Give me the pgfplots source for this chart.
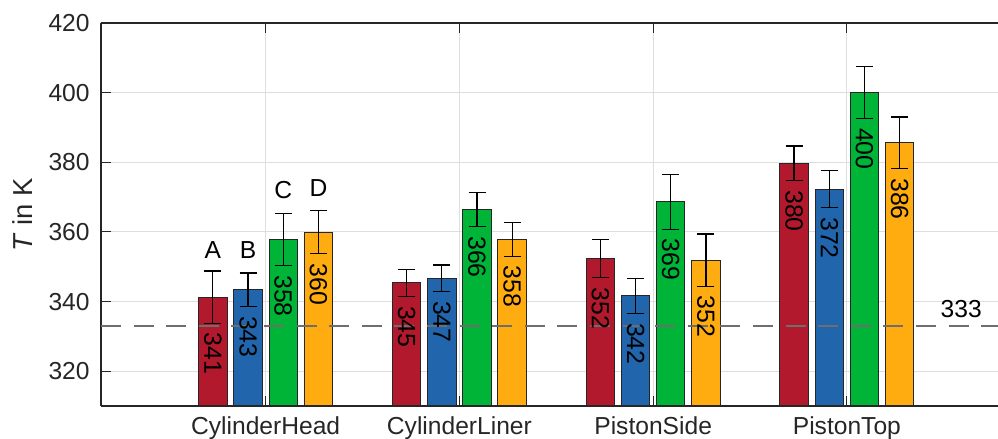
\documentclass[border=0pt]{standalone}
\usepackage{pgfplots}
\pgfplotsset{compat=1.18}
\usepackage{pgfplotstable}
\usepackage{fontspec}
\setmainfont{Liberation Sans}

\definecolor{cRed}{RGB}{178,25,45}
\definecolor{cBlue}{RGB}{33,101,172}
\definecolor{cGreen}{RGB}{0,180,55}
\definecolor{cOrange}{RGB}{254,172,15}
\definecolor{axgray}{RGB}{38,38,38}
\definecolor{gridgray}{RGB}{222,222,222}
\definecolor{refgray}{RGB}{110,110,110}

% columns: component index, mean temperature (K), standard deviation (K)
\pgfplotstableread{
x  y      e
1  341.3  7.5
2  345.4  3.9
3  352.3  5.5
4  379.7  5.0
}\dataA
\pgfplotstableread{
x  y      e
1  343.4  4.8
2  346.7  3.8
3  341.6  5.0
4  372.3  5.3
}\dataB
\pgfplotstableread{
x  y      e
1  357.8  7.5
2  366.4  4.9
3  368.6  7.8
4  400.1  7.5
}\dataC
\pgfplotstableread{
x  y      e
1  359.9  6.2
2  357.8  4.8
3  351.9  7.5
4  385.6  7.4
}\dataD

\pgfplotsset{
  tempbar/.style={
    draw=black!85, line width=0.5pt,
    error bars/.cd, y dir=both, y explicit,
      error bar style={black, line width=0.6pt},
      error mark options={rotate=90, black, mark size=4.25pt, line width=0.6pt},
    /pgfplots/.cd,
    point meta=y,
    visualization depends on={\thisrow{e} \as \err},
    nodes near coords={\pgfmathprintnumber[fixed,precision=0]{\pgfplotspointmeta}},
    nodes near coords style={font=\fontsize{12.4}{14}\selectfont, black, inner sep=0pt,
      anchor=west, yshift={-(1.7409*\err+4.6)*1pt}, rotate=-90},
  },
}

\begin{document}
\begin{tikzpicture}
\useasboundingbox (-50.5pt,-16.5pt) rectangle (448.5pt,203pt);
\begin{axis}[
  at={(0,0)}, anchor=south west,
  scale only axis, width=448.5pt, height=191.5pt,
  xmin=0.15, xmax=4.78, ymin=310, ymax=420,
  ybar, bar width=0.147,
  axis y line*=left, axis x line*=box,
  axis line style={axgray, line width=0.6pt},
  xtick={1,2,3,4},
  xticklabels={CylinderHead, CylinderLiner, PistonSide, PistonTop},
  ytick={320,340,...,420},
  tick align=inside, major tick length=5pt,
  tick style={axgray, line width=0.5pt},
  grid=major, grid style={gridgray, line width=0.5pt},
  /pgf/number format/assume math mode=true,
  ticklabel style={font=\fontsize{12.3}{14}\selectfont, text=axgray},
  xticklabel style={inner sep=0pt, anchor=north, yshift=-5pt},
  yticklabel style={inner sep=0pt, anchor=east, xshift=-5.5pt},
  ylabel={\textit{T} in K},
  every axis y label/.style={at={([xshift=-39pt]axis description cs:0,0.5)},
    rotate=90, anchor=center, font=\fontsize{13.7}{16}\selectfont, text=axgray},
]
\addplot[tempbar, bar shift=-0.2725, fill=cRed]    table[x=x, y=y, y error=e] {\dataA};
\addplot[tempbar, bar shift=-0.0908, fill=cBlue]   table[x=x, y=y, y error=e] {\dataB};
\addplot[tempbar, bar shift=0.0908,  fill=cGreen]  table[x=x, y=y, y error=e] {\dataC};
\addplot[tempbar, bar shift=0.2725,  fill=cOrange] table[x=x, y=y, y error=e] {\dataD};

% reference temperature
\addplot[forget plot, sharp plot, bar shift=0, refgray, line width=0.75pt,
  dash pattern=on 10pt off 6.3pt]
  coordinates {(0.15,333) (4.78,333)};
\node[anchor=base, inner sep=0pt, font=\fontsize{12.3}{14}\selectfont, text=black]
  at (axis cs:4.59,335.3) {333};

% group letters over the first component
\begin{scope}[every node/.style={anchor=base, inner sep=0pt, font=\fontsize{12.3}{14}\selectfont}]
  \node at (axis cs:0.7275,352.4) {A};
  \node at (axis cs:0.9092,352.4) {B};
  \node at (axis cs:1.0908,369.6) {C};
  \node at (axis cs:1.2725,370.1) {D};
\end{scope}
\end{axis}
\end{tikzpicture}
\end{document}
